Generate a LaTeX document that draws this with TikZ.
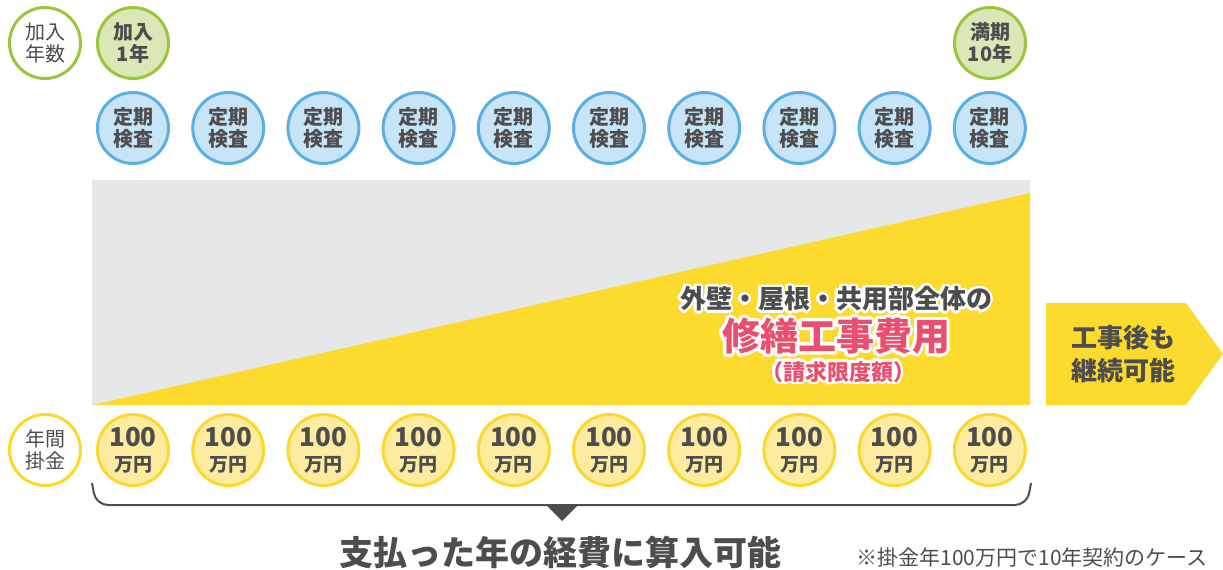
\documentclass[tikz,border=0pt]{standalone}
\usepackage{fontspec}
\setmainfont{Noto Sans CJK JP}
\usepackage{contour}
\contournumber{24}
\definecolor{txt}{HTML}{4D4D4D}
\definecolor{gbd}{HTML}{9BC63C}
\definecolor{gfl}{HTML}{D9E8B6}
\definecolor{bbd}{HTML}{5BB0E3}
\definecolor{bfl}{HTML}{C8E4F7}
\definecolor{ybd}{HTML}{FCD82C}
\definecolor{yfl}{HTML}{FDECA0}
\definecolor{ybig}{HTML}{FDDB2E}
\definecolor{gbg}{HTML}{E6E7E9}
\definecolor{pink}{HTML}{E9506F}
\tikzset{
  coin/.style={circle, minimum size=71pt, inner sep=0pt, line width=3pt, align=center, text=txt},
  green/.style={coin, draw=gbd, fill=gfl, font=\bfseries\fontsize{20}{22}\selectfont},
  greenw/.style={coin, draw=gbd, fill=white, font=\fontsize{20}{22}\selectfont},
  blue/.style={coin, draw=bbd, fill=bfl, font=\bfseries\fontsize{20}{22}\selectfont},
  ycoin/.style={coin, draw=ybd, fill=yfl, font=\bfseries\fontsize{19}{25}\selectfont},
  ycoinw/.style={coin, draw=ybd, fill=white, font=\fontsize{20}{22}\selectfont},
  lbl/.style={inner sep=0pt, text=txt, font=\bfseries},
}
\begin{document}
\begin{tikzpicture}[x=1pt,y=-1pt]
\useasboundingbox (0,0) rectangle (1223,570);
% background chart
\fill[gbg] (92,180) rectangle (1030,405);
\fill[ybig] (92,405) -- (1030,193) -- (1030,405) -- cycle;
% top row
\node[greenw] (hdr1) at (45,43) {加入\\年数};
\node[green] (y1) at (133,43) {加入\\1年};
\node[green] (y10) at (990,43) {満期\\10年};
\foreach \i in {0,...,9} {
  \node[blue] (k\i) at ({133+95.2*\i},128) {定期\\検査};
  \node[ycoin] (p\i) at ({133+95.2*\i},450) {{\fontsize{26}{26}\selectfont 100}\\万円};
}
\node[ycoinw] (hdr2) at (45,450) {年間\\掛金};
% central text
\node[lbl, font=\bfseries\fontsize{26}{26}\selectfont] (t1) at (836,300) {\contourlength{2.5pt}\contour{white}{外壁・屋根・共用部全体の}};
\node[lbl, text=pink, font=\bfseries\fontsize{38}{38}\selectfont] (t2) at (836,338) {\contourlength{3pt}\contour{white}{修繕工事費用}};
\node[lbl, text=pink, font=\bfseries\fontsize{22}{22}\selectfont] (t3) at (838,373) {\contourlength{2.5pt}\contour{white}{（請求限度額）}};
% arrow on right
\fill[ybig] (1046,303) -- (1186,303) -- (1223,354) -- (1186,405) -- (1046,405) -- cycle;
\node[lbl, align=center, font=\bfseries\fontsize{26}{33}\selectfont] (arr) at (1123,354) {工事後も\\継続可能};
% brace
\coordinate (bl) at (92,483);
\coordinate (br) at (1031,483);
\draw[txt, line width=2pt, rounded corners=12pt] (bl) -- (96,505) -- (1027,505) -- (br);
\fill[txt] (545,504) -- (579,504) -- (562,521) -- cycle;
\node[lbl, font=\bfseries\fontsize{34}{34}\selectfont] (main) at (560,552) {支払った年の経費に算入可能};
\node[inner sep=0pt, text=txt, font=\fontsize{21}{21}\selectfont] (note) at (1032,557) {※掛金年100万円で10年契約のケース};
\end{tikzpicture}
\end{document}
